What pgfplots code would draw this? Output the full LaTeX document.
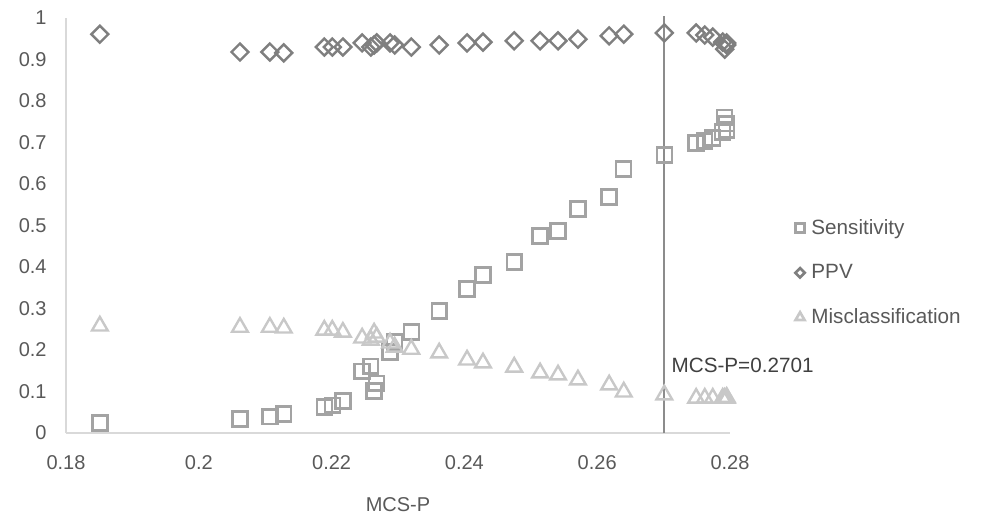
\documentclass[border=0pt]{standalone}
\usepackage{pgfplots}
\pgfplotsset{compat=1.18}
\usepackage{fontspec}
\setmainfont{Liberation Sans}
\definecolor{sensc}{HTML}{A3A3A3}
\definecolor{ppvc}{HTML}{7F7F7F}
\definecolor{misc}{HTML}{C8C8C8}
\definecolor{axc}{HTML}{D9D9D9}
\definecolor{txtc}{HTML}{595959}
\begin{document}
\begin{tikzpicture}
\path[use as bounding box] (-49.5pt,-64.5pt) rectangle (686.25pt,324.75pt);
\begin{axis}[
  at={(0,0)}, anchor=south west,
  scale only axis, width=498pt, height=311.25pt,
  xmin=0.18, xmax=0.28, ymin=0, ymax=1,
  axis x line*=bottom, axis y line*=left,
  axis line style={axc, line width=0.8pt, -},
  xtick={0.18,0.2,0.22,0.24,0.26,0.28},
  ytick={0,0.1,0.2,0.3,0.4,0.5,0.6,0.7,0.8,0.9,1},
  major tick length=0pt,
  xticklabels={0.18,0.2,0.22,0.24,0.26,0.28},
  yticklabels={0,0.1,0.2,0.3,0.4,0.5,0.6,0.7,0.8,0.9,1},
  ticklabel style={font=\fontsize{15}{18}\selectfont, text=txtc},
  xticklabel style={yshift=-13pt},
  yticklabel style={xshift=-11pt},
  xlabel={MCS-P},
  xlabel style={at={(axis description cs:0.5,0)}, anchor=center, yshift=-54pt, font=\fontsize{15}{18}\selectfont, text=txtc},
  clip=false,
  legend style={at={(axis cs:0.2898,0.386)}, anchor=west, draw=none, fill=none,
    font=\fontsize{15.5}{18}\selectfont, text=txtc, row sep=17pt, column sep=3pt,
    legend cell align=left, inner sep=0pt, nodes={inner sep=2pt}},
]
\addplot[only marks, mark=square, mark size=5.6pt, line width=1.8pt, sensc,
  legend image code/.code={\draw[sensc, mark=square, only marks, mark size=3.4pt, line width=2pt] plot coordinates {(0.1cm,0cm)};}] coordinates {
(0.1851,0.024)(0.2062,0.034)(0.2107,0.039)(0.2128,0.046)(0.2189,0.063)(0.2201,0.067)(0.2217,0.077)
(0.2246,0.149)(0.2259,0.161)(0.2264,0.101)(0.2268,0.120)(0.2288,0.195)(0.2295,0.219)(0.2320,0.243)
(0.2362,0.294)(0.2404,0.347)(0.2428,0.381)(0.2475,0.412)(0.2514,0.475)(0.2541,0.487)(0.2571,0.540)
(0.2618,0.569)(0.2640,0.636)(0.2701,0.670)(0.2749,0.699)(0.2762,0.704)(0.2774,0.711)(0.2789,0.725)
(0.2792,0.761)(0.2795,0.730)(0.2795,0.745)
};
\addlegendentry{Sensitivity}
\addplot[only marks, mark=square, mark size=4.5pt, line width=1.8pt, ppvc, mark options={rotate=45},
  legend image code/.code={\draw[ppvc, mark=square, only marks, mark options={rotate=45}, mark size=2.5pt, line width=2pt] plot coordinates {(0.1cm,0cm)};}] coordinates {
(0.1851,0.961)(0.2062,0.918)(0.2107,0.918)(0.2128,0.916)(0.2189,0.930)(0.2201,0.930)(0.2217,0.930)
(0.2246,0.940)(0.2259,0.930)(0.2264,0.935)(0.2268,0.940)(0.2288,0.940)(0.2295,0.935)(0.2320,0.930)
(0.2362,0.935)(0.2404,0.940)(0.2428,0.942)(0.2475,0.945)(0.2514,0.945)(0.2541,0.945)(0.2571,0.949)
(0.2618,0.957)(0.2640,0.961)(0.2701,0.964)(0.2749,0.964)(0.2762,0.959)(0.2774,0.954)(0.2789,0.942)
(0.2792,0.925)(0.2795,0.935)(0.2795,0.940)
};
\addlegendentry{PPV}
\addplot[only marks, mark=triangle, mark size=6.8pt, line width=1.8pt, misc,
  legend image code/.code={\draw[misc, mark=triangle, only marks, mark size=3.9pt, line width=2pt] plot coordinates {(0.1cm,0cm)};}] coordinates {
(0.1851,0.258)(0.2062,0.255)(0.2107,0.255)(0.2128,0.253)(0.2189,0.248)(0.2201,0.248)(0.2217,0.243)
(0.2246,0.229)(0.2259,0.224)(0.2264,0.241)(0.2268,0.231)(0.2288,0.217)(0.2295,0.207)(0.2320,0.202)
(0.2362,0.193)(0.2404,0.176)(0.2428,0.169)(0.2475,0.159)(0.2514,0.145)(0.2541,0.140)(0.2571,0.128)
(0.2618,0.116)(0.2640,0.099)(0.2701,0.092)(0.2749,0.084)(0.2762,0.084)(0.2774,0.084)(0.2789,0.084)
(0.2792,0.084)(0.2795,0.084)(0.2795,0.086)
};
\addlegendentry{Misclassification}
\addplot[no marks, color=ppvc!90, line width=1.3pt, forget plot] coordinates {(0.2701,0)(0.2701,1.005)};
\node[anchor=west, font=\fontsize{15.5}{18}\selectfont, text=black!75, xshift=2pt] at (axis cs:0.2701,0.164) {MCS-P=0.2701};
\end{axis}
\end{tikzpicture}
\end{document}
